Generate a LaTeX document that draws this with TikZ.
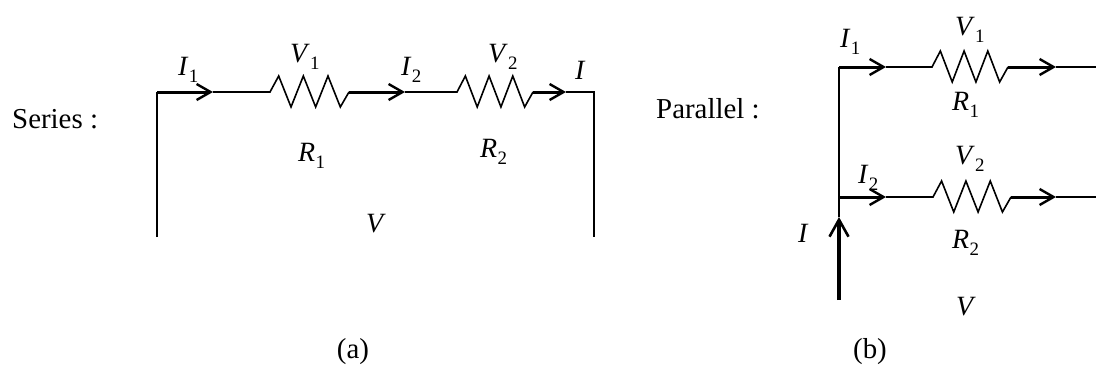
\documentclass[tikz,border=0pt]{standalone}
\usepackage{fontspec}
\setmainfont{Liberation Serif}
\usetikzlibrary{arrows.meta}
\newcommand\lbl[2]{\textit{#1}\kern0.3pt\raisebox{-7bp}{\fontsize{19}{19}\selectfont #2}}
\newcommand\zz[1]{-- ++({#1*0.11},-16) -- ++({#1*0.156},31) -- ++({#1*0.156},-31) -- ++({#1*0.156},31) -- ++({#1*0.156},-31) -- ++({#1*0.156},31) -- ++({#1*0.11},-15)}
\tikzset{
  wire/.style={line width=1.6bp},
  thk/.style={line width=3bp, -{Straight Barb[length=14bp,width=16bp,line width=2.4bp]}},
  thkup/.style={line width=3.2bp, -{Straight Barb[length=17bp,width=19bp,line width=2.6bp]}},
  txt/.style={font=\fontsize{29}{33}\selectfont, inner sep=0pt},
  lab/.style={font=\fontsize{28}{32}\selectfont, inner sep=0pt, anchor=base west},
}
\begin{document}
\begin{tikzpicture}[x=1bp,y=-1bp]
\useasboundingbox (0,0) rectangle (1096,370);
% ---------- series ----------
\coordinate (s0) at (157,237);
\coordinate (s1) at (157,92);
\coordinate (sa1) at (213,92);
\coordinate (r1) at (270,92);
\coordinate (r1e) at (349,92);
\coordinate (sa2) at (405,92);
\coordinate (r2) at (457,92);
\coordinate (r2e) at (533,92);
\coordinate (sa3) at (566,92);
\coordinate (s2) at (594,92);
\coordinate (s3) at (594,237);
\draw[wire] (s0) -- (s1);
\draw[thk] (s1) -- (sa1);
\draw[wire] (sa1) -- (r1) \zz{79};
\draw[thk] (r1e) -- (sa2);
\draw[wire] (sa2) -- (r2) \zz{76};
\draw[thk] (r2e) -- (sa3);
\draw[wire] (sa3) -- (s2) -- (s3);
\node[txt, anchor=base west] (series) at (12,128) {Series :};
\node[lab] (si1) at (178,75) {\lbl{I}{1}};
\node[lab] (sv1) at (290,62) {\lbl{V}{1}};
\node[lab] (si2) at (401,75) {\lbl{I}{2}};
\node[lab] (sv2) at (488,62) {\lbl{V}{2}};
\node[lab] (si) at (575,79) {\textit{I}};
\node[lab] (sr1) at (298,161) {\lbl{R}{1}};
\node[lab] (sr2) at (480,157) {\lbl{R}{2}};
\node[lab] (sv) at (366,232) {\textit{V}};
\node[txt] (a) at (353,352) {(a)};
% ---------- parallel ----------
\coordinate (p0) at (839,300);
\coordinate (pa) at (839,217);
\coordinate (pb) at (839,197);
\coordinate (pt) at (839,67);
\coordinate (ta1) at (886,67);
\coordinate (tr) at (932,67);
\coordinate (tre) at (1008,67);
\coordinate (ta2) at (1056,67);
\coordinate (te) at (1096,67);
\coordinate (ba1) at (886,197);
\coordinate (br) at (933,197);
\coordinate (bre) at (1011,197);
\coordinate (ba2) at (1056,197);
\coordinate (be) at (1096,197);
\draw[thkup] (p0) -- (pa);
\draw[wire] (pa) -- (pt);
\draw[thk] (pt) -- (ta1);
\draw[wire] (ta1) -- (tr) \zz{76};
\draw[thk] (tre) -- (ta2);
\draw[wire] (ta2) -- (te);
\draw[thk] (pb) -- (ba1);
\draw[wire] (ba1) -- (br) \zz{78};
\draw[thk] (bre) -- (ba2);
\draw[wire] (ba2) -- (be);
\node[txt, anchor=base west] (parallel) at (656,118) {Parallel :};
\node[lab] (pi1) at (840,47) {\lbl{I}{1}};
\node[lab] (pv1) at (955,35) {\lbl{V}{1}};
\node[lab] (pr1) at (952,110) {\lbl{R}{1}};
\node[lab] (pv2) at (955,164) {\lbl{V}{2}};
\node[lab] (pi2) at (858,183) {\lbl{I}{2}};
\node[lab] (pi) at (798,242) {\textit{I}};
\node[lab] (pr2) at (952,248) {\lbl{R}{2}};
\node[lab] (pv) at (956,315) {\textit{V}};
\node[txt] (b) at (870,352) {(b)};
\end{tikzpicture}
\end{document}
